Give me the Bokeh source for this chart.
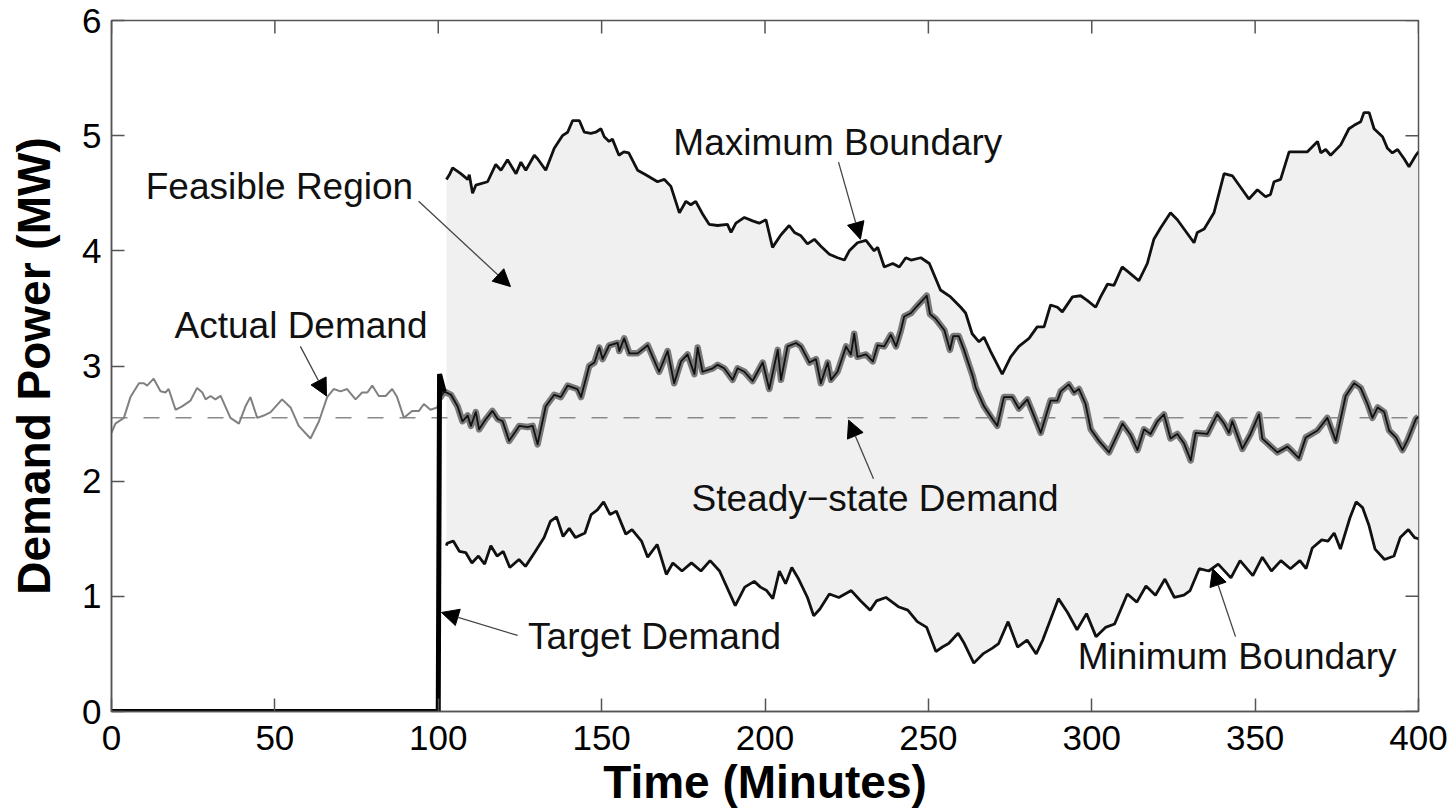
import math
from bokeh.plotting import figure
from bokeh.models import Range1d, FixedTicker, Arrow, NormalHead, Label
from bokeh.embed import file_html
from bokeh.resources import INLINE

# ---------------- data ----------------
x_ticks = [0, 50, 100, 150, 200, 250, 300, 350, 400]
y_ticks = [0, 1, 2, 3, 4, 5, 6]
steady_state = 2.55

actual_pre_t = [0, 1.2, 3.8, 5.8, 8.4, 9.9, 10.9, 12.9, 15.0, 16.5, 17.5, 19.6, 21.6, 24.2, 26.2, 27.8,
                28.8, 30.3, 31.8, 33.4, 36.4, 39.0, 41.0, 42.5, 44.6, 46.6, 48.7, 52.2, 54.8, 57.3, 60.9,
                63.5, 66.0, 68.0, 70.1, 72.1, 74.7, 76.7, 78.3, 79.8, 81.8, 83.9, 85.9, 87.4, 89.5, 92.0,
                94.1, 95.6, 97.6, 99.7, 100.5]
actual_pre_v = [2.42, 2.50, 2.55, 2.73, 2.85, 2.85, 2.83, 2.89, 2.78, 2.77, 2.80, 2.62, 2.65, 2.70, 2.81, 2.77,
                2.71, 2.74, 2.71, 2.74, 2.55, 2.50, 2.65, 2.73, 2.55, 2.57, 2.60, 2.71, 2.64, 2.48, 2.37,
                2.52, 2.73, 2.80, 2.78, 2.80, 2.71, 2.77, 2.77, 2.83, 2.74, 2.74, 2.80, 2.73, 2.55, 2.61,
                2.61, 2.67, 2.62, 2.64, 2.72]

demand_t = [100.5, 101.8, 103.9, 105.9, 107.4, 109.0, 110.0, 111.5, 112.5, 114.6, 116.6, 118.2, 119.7, 121.7,
            124.8, 127.3, 128.9, 130.4, 132.9, 135.5, 137.5, 139.6, 142.6, 143.7, 146.2, 147.8, 149.3, 150.3,
            152.3, 154.9, 155.4, 156.9, 158.5, 161.0, 164.1, 167.6, 170.2, 172.2, 174.3, 176.3, 178.4, 179.4,
            180.9, 184.0, 185.5, 187.5, 190.1, 191.6, 193.7, 196.2, 199.3, 201.3, 203.9, 204.9, 206.9, 209.5,
            211.0, 213.6, 215.6, 217.1, 219.2, 220.2, 222.2, 224.8, 226.3, 227.3, 228.3, 230.9, 233.0, 234.5,
            236.5, 238.5, 240.1, 241.6, 242.6, 244.7, 246.2, 247.2, 249.5, 250.5, 252.2, 254.9, 256.6, 257.6,
            259.3, 260.9, 263.6, 264.5, 267.0, 269.6, 271.1, 273.1, 275.7, 277.7, 280.3, 284.4, 287.4, 289.5,
            290.5, 293.0, 294.6, 296.1, 298.1, 299.7, 302.2, 305.3, 309.4, 311.9, 314.0, 316.0, 318.0, 320.1,
            322.1, 324.1, 326.2, 328.2, 330.3, 331.8, 335.4, 338.4, 340.5, 342.0, 343.0, 346.1, 348.6, 351.2,
            352.2, 356.8, 359.9, 363.4, 365.5, 369.1, 372.1, 374.7, 377.7, 380.3, 382.3, 384.4, 385.9, 387.5,
            389.5, 391.0, 393.1, 395.1, 396.7, 399.2, 400.0]
demand_v = [2.72, 2.78, 2.75, 2.65, 2.52, 2.57, 2.48, 2.60, 2.45, 2.54, 2.61, 2.54, 2.52, 2.35,
            2.48, 2.47, 2.48, 2.32, 2.65, 2.75, 2.73, 2.83, 2.80, 2.73, 3.00, 3.03, 3.16, 3.06,
            3.18, 3.20, 3.13, 3.24, 3.11, 3.11, 3.18, 2.95, 3.13, 2.85, 3.04, 3.10, 2.93, 3.16,
            2.95, 2.98, 3.01, 2.98, 2.88, 2.98, 2.95, 2.87, 3.03, 2.80, 3.14, 2.88, 3.17, 3.20,
            3.17, 3.03, 3.06, 2.85, 3.03, 2.88, 2.95, 3.17, 3.10, 3.28, 3.08, 3.10, 3.04, 3.18,
            3.17, 3.27, 3.17, 3.31, 3.43, 3.46, 3.51, 3.54, 3.61, 3.45, 3.41, 3.31, 3.14, 3.26,
            3.26, 3.14, 2.91, 2.81, 2.65, 2.54, 2.48, 2.73, 2.73, 2.63, 2.71, 2.42, 2.70, 2.70,
            2.78, 2.84, 2.77, 2.80, 2.67, 2.45, 2.35, 2.25, 2.50, 2.40, 2.27, 2.45, 2.41, 2.52,
            2.58, 2.37, 2.41, 2.33, 2.18, 2.42, 2.41, 2.58, 2.50, 2.42, 2.52, 2.28, 2.41, 2.58,
            2.37, 2.25, 2.30, 2.20, 2.38, 2.44, 2.55, 2.35, 2.74, 2.85, 2.81, 2.67, 2.55, 2.64,
            2.60, 2.44, 2.38, 2.27, 2.36, 2.54, 2.56]

target_t = [0, 100.0, 100.4, 101.8]
target_v = [0, 0, 2.93, 2.78]

max_t = [102.5, 103.4, 104.4, 106.9, 109.0, 109.5, 110.5, 111.5, 115.1, 117.6, 119.2, 121.2, 123.8, 125.3,
         126.8, 129.4, 130.4, 132.9, 135.5, 138.0, 139.6, 141.1, 143.2, 144.7, 146.7, 148.2, 149.8, 150.8,
         152.3, 153.3, 155.3, 156.8, 158.3, 161.0, 163.5, 167.1, 169.2, 171.2, 173.8, 175.8, 177.3, 178.8,
         180.9, 182.9, 185.5, 188.5, 189.6, 191.1, 193.7, 196.2, 198.2, 200.3, 202.3, 204.9, 207.4, 209.0,
         211.0, 213.0, 215.1, 217.1, 219.7, 222.2, 224.3, 225.8, 228.3, 230.9, 233.4, 234.5, 236.5, 239.1,
         241.1, 243.1, 244.7, 247.7, 250.3, 253.7, 256.8, 259.9, 261.4, 263.4, 265.5, 267.0, 269.0, 272.6,
         275.2, 277.7, 280.8, 283.3, 285.4, 287.4, 289.5, 291.0, 294.1, 296.6, 298.6, 301.2, 302.7, 304.8,
         306.8, 309.3, 311.9, 314.4, 317.0, 319.0, 321.1, 324.1, 326.2, 331.3, 332.3, 334.4, 337.4, 340.5,
         343.1, 345.6, 348.1, 350.7, 353.2, 354.7, 355.8, 357.8, 360.4, 362.9, 366.0, 369.1, 370.1, 371.6,
         373.1, 376.2, 378.7, 380.3, 382.3, 383.3, 384.9, 386.4, 389.0, 390.5, 392.0, 393.6, 395.6, 397.1,
         399.2, 400.0]
max_v = [4.62, 4.66, 4.72, 4.67, 4.62, 4.66, 4.50, 4.57, 4.60, 4.75, 4.70, 4.79, 4.67, 4.77,
         4.70, 4.83, 4.80, 4.70, 4.89, 5.00, 5.03, 5.13, 5.13, 5.03, 5.02, 5.03, 5.06, 4.99,
         4.95, 4.97, 4.83, 4.86, 4.85, 4.70, 4.66, 4.60, 4.62, 4.56, 4.33, 4.43, 4.40, 4.43,
         4.32, 4.23, 4.22, 4.23, 4.16, 4.24, 4.29, 4.26, 4.24, 4.27, 4.03, 4.14, 4.22, 4.16,
         4.13, 4.06, 4.10, 4.04, 3.97, 3.94, 3.92, 4.00, 4.07, 4.09, 4.00, 4.03, 3.86, 3.89,
         3.86, 3.94, 3.92, 3.94, 3.89, 3.66, 3.60, 3.51, 3.46, 3.28, 3.21, 3.25, 3.13, 2.93,
         3.08, 3.17, 3.24, 3.34, 3.34, 3.53, 3.51, 3.47, 3.60, 3.61, 3.57, 3.51, 3.60, 3.71,
         3.70, 3.86, 3.80, 3.74, 3.89, 4.10, 4.20, 4.33, 4.27, 4.07, 4.16, 4.19, 4.33, 4.67,
         4.65, 4.55, 4.45, 4.53, 4.47, 4.49, 4.60, 4.62, 4.86, 4.86, 4.86, 4.95, 4.85, 4.88,
         4.83, 4.92, 5.06, 5.09, 5.12, 5.20, 5.20, 5.06, 4.99, 4.89, 4.85, 4.88, 4.80, 4.73,
         4.83, 4.86]

min_t = [102.5, 102.7, 104.6, 106.5, 108.4, 110.3, 112.3, 114.2, 116.1, 118.0, 119.9, 121.9, 124.7, 126.7,
         129.5, 132.4, 134.3, 136.2, 138.2, 140.1, 142.0, 144.9, 146.8, 148.7, 150.6, 152.6, 154.5, 157.4,
         159.3, 162.2, 164.1, 167.0, 169.8, 171.8, 174.6, 177.5, 180.4, 183.2, 186.1, 190.9, 193.8, 196.7,
         198.6, 200.5, 202.4, 204.4, 206.3, 208.2, 210.1, 213.0, 214.9, 216.8, 219.7, 222.6, 226.4, 229.3,
         232.2, 234.1, 237.0, 240.8, 243.7, 246.6, 249.5, 252.3, 254.3, 256.2, 259.1, 261.0, 263.9, 266.7,
         269.6, 271.5, 274.4, 277.3, 280.2, 283.0, 285.0, 289.8, 292.6, 295.5, 298.4, 301.3, 304.2, 307.0,
         310.9, 313.8, 316.6, 319.5, 322.4, 325.3, 328.2, 330.1, 332.9, 335.8, 338.7, 342.6, 345.4, 349.3,
         352.2, 355.0, 357.9, 360.8, 363.7, 365.6, 367.5, 370.4, 372.3, 374.2, 376.1, 379.0, 380.9, 382.9,
         384.8, 386.7, 389.6, 392.5, 394.4, 396.9, 398.8, 400.0]
min_v = [1.44, 1.46, 1.48, 1.39, 1.38, 1.29, 1.35, 1.28, 1.44, 1.35, 1.39, 1.25, 1.32, 1.26,
         1.38, 1.51, 1.65, 1.69, 1.52, 1.59, 1.51, 1.55, 1.71, 1.75, 1.82, 1.71, 1.74, 1.54,
         1.58, 1.48, 1.34, 1.45, 1.19, 1.29, 1.22, 1.29, 1.22, 1.31, 1.22, 0.92, 1.08, 1.13,
         1.08, 1.05, 0.98, 1.22, 1.11, 1.25, 1.16, 0.99, 0.83, 0.89, 1.02, 0.99, 1.05, 0.96,
         0.88, 0.96, 0.99, 0.91, 0.88, 0.78, 0.73, 0.52, 0.56, 0.59, 0.68, 0.59, 0.42, 0.50,
         0.55, 0.59, 0.78, 0.56, 0.62, 0.50, 0.62, 0.98, 0.86, 0.71, 0.85, 0.65, 0.73, 0.76,
         1.02, 0.95, 1.09, 1.01, 1.15, 0.99, 1.01, 1.05, 1.24, 1.22, 1.28, 1.16, 1.31, 1.18,
         1.34, 1.22, 1.31, 1.24, 1.31, 1.24, 1.42, 1.49, 1.48, 1.55, 1.41, 1.68, 1.82, 1.77,
         1.62, 1.41, 1.32, 1.35, 1.51, 1.58, 1.51, 1.50]

# annotations: (text, x, y) text anchor and arrows (tail -> head)
labels = [
    ("Feasible Region", 51.4, 4.56),
    ("Maximum Boundary", 222.3, 4.94),
    ("Actual Demand", 58.0, 3.35),
    ("Steady\u2212state Demand", 233.7, 1.85),
    ("Target Demand", 166.2, 0.65),
    ("Minimum Boundary", 344.5, 0.48),
]
arrows = [
    (94.0, 4.43, 122.1, 3.69),
    (222.5, 4.77, 229.2, 4.10),
    (57.8, 3.17, 65.8, 2.74),
    (233.2, 2.02, 225.6, 2.53),
    (124.3, 0.66, 101.0, 0.86),
    (344.0, 0.65, 337.0, 1.24),
]

# ---------------- figure ----------------
FONT = "Liberation Sans"
AX_COL = "#555555"
X0, X1 = x_ticks[0], x_ticks[-1]
Y0, Y1 = y_ticks[0], y_ticks[-1]

p = figure(width=1451, height=810, x_range=Range1d(X0, X1), y_range=Range1d(Y0, Y1),
           output_backend="svg", toolbar_location=None,
           min_border_left=111, min_border_top=20, min_border_right=33, min_border_bottom=98)
p.grid.visible = False
p.outline_line_color = AX_COL
p.outline_line_width = 1.5
p.background_fill_color = "white"
p.border_fill_color = "white"

for ax in (p.xaxis[0], p.yaxis[0]):
    ax.major_tick_in = 13
    ax.major_tick_out = 0
    ax.minor_tick_line_color = None
    ax.axis_line_color = AX_COL
    ax.axis_line_width = 1.5
    ax.major_tick_line_color = AX_COL
    ax.major_tick_line_width = 1.5
    ax.major_label_text_font = FONT
    ax.major_label_text_font_size = "35px"
    ax.major_label_text_color = "black"
    ax.axis_label_text_font = FONT
    ax.axis_label_text_font_style = "bold"
    ax.axis_label_text_font_size = "46px"
    ax.axis_label_text_color = "black"

p.xaxis[0].ticker = FixedTicker(ticks=x_ticks)
p.yaxis[0].ticker = FixedTicker(ticks=y_ticks)
p.xaxis[0].axis_label = "Time (Minutes)"
p.yaxis[0].axis_label = "Demand Power (MW)"
p.xaxis[0].major_label_standoff = 14
p.xaxis[0].axis_label_standoff = 3
p.yaxis[0].major_label_standoff = 10
p.yaxis[0].axis_label_standoff = 19

# mirrored tick marks on the top and right edges of the box (half of each dash is clipped by the frame)
p.scatter(x_ticks, [Y1] * len(x_ticks), marker="dash", size=26, angle=math.pi / 2,
          line_color=AX_COL, line_width=1.5)
p.scatter([X1] * len(y_ticks), y_ticks, marker="dash", size=26,
          line_color=AX_COL, line_width=1.5)

# feasible region (between min and max boundaries)
p.patch(max_t + min_t[::-1], max_v + min_v[::-1], fill_color="#f0f0f0", line_color=None)

# steady-state demand
p.line([X0, X1], [steady_state, steady_state], line_color="#8a8a8a", line_width=1.5, line_dash="16 16")

# actual demand before target change
p.line(actual_pre_t, actual_pre_v, line_color="#808080", line_width=2)
# actual demand (gray band) and target trajectory (black) after the change
p.line(demand_t, demand_v, line_color="#7a7a7a", line_width=6.5, line_join="round")
p.line(demand_t, demand_v, line_color="#111111", line_width=1.8, line_join="round")
# target demand step
p.line(target_t, target_v, line_color="black", line_width=5)

# boundaries
p.line(max_t, max_v, line_color="#111111", line_width=2.8)
p.line(min_t, min_v, line_color="#111111", line_width=2.8)

# arrows and labels
for (x0, y0, x1, y1) in arrows:
    p.add_layout(Arrow(x_start=x0, y_start=y0, x_end=x1, y_end=y1,
                       line_color="#444444", line_width=1.3,
                       end=NormalHead(size=17, fill_color="black", line_color="black", line_width=1)))
for (txt, x, y) in labels:
    p.add_layout(Label(x=x, y=y, text=txt, text_align="center", text_baseline="alphabetic",
                       text_font=FONT, text_font_size="37px", text_color="#111111"))

open("out.html", "w").write(file_html(p, INLINE))
